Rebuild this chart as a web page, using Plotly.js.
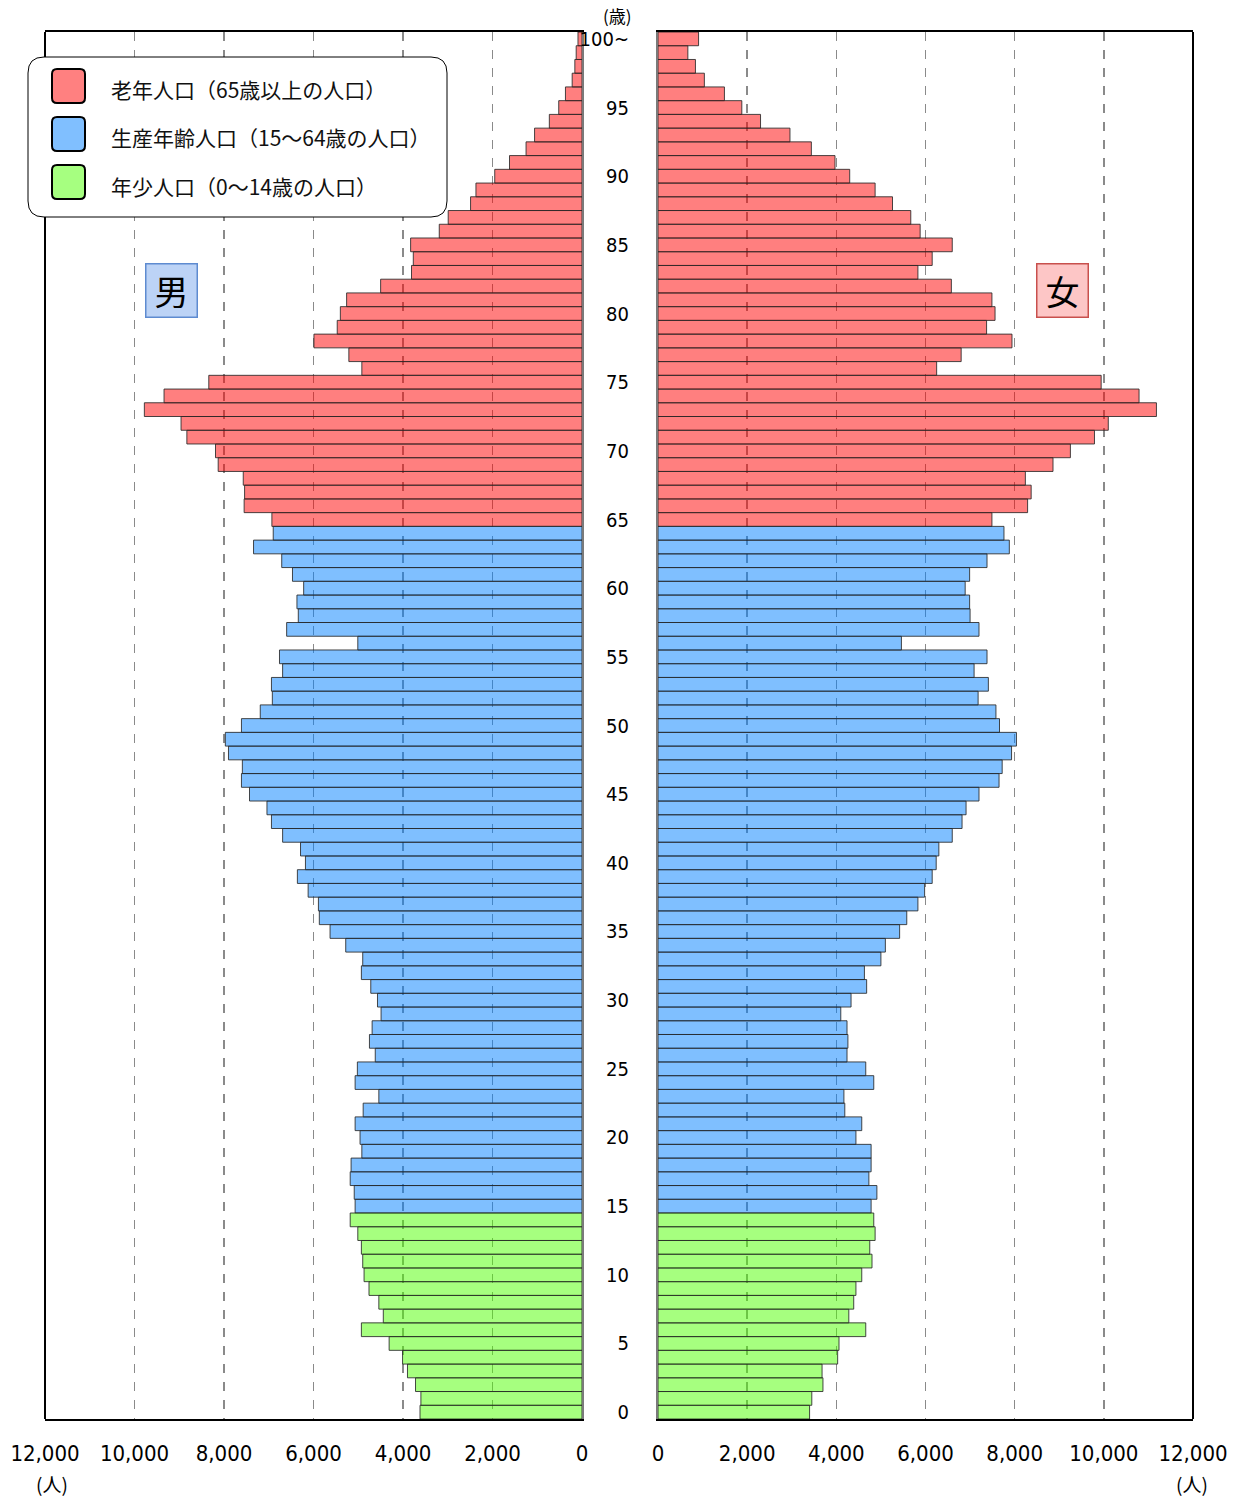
<!DOCTYPE html>
<html>
<head>
<meta charset="utf-8">
<script src="https://cdn.plot.ly/plotly-3.0.1.min.js"></script>
<style>html,body{margin:0;padding:0;background:#fff;}#chart{width:1234px;height:1497px;}</style>
</head>
<body>
<div id="chart"></div>
<script>
// ---- data (age 0 .. 100+) ----
const ages = [0,1,2,3,4,5,6,7,8,9,10,11,12,13,14,15,16,17,18,19,20,21,22,23,24,25,26,27,28,29,30,31,32,33,34,35,36,37,38,39,40,41,42,43,44,45,46,47,48,49,50,51,52,53,54,55,56,57,58,59,60,61,62,63,64,65,66,67,68,69,70,71,72,73,74,75,76,77,78,79,80,81,82,83,84,85,86,87,88,89,90,91,92,93,94,95,96,97,98,99,100];
const male = [3620,3600,3720,3900,4010,4310,4930,4440,4540,4760,
  4870,4900,4930,5010,5180,5070,5090,5180,5160,4920,
  4960,5070,4890,4540,5070,5020,4620,4750,4690,4490,
  4570,4720,4930,4900,5280,5630,5870,5890,6120,6360,
  6180,6290,6690,6940,7040,7430,7610,7590,7900,7970,
  7610,7190,6920,6940,6690,6760,5010,6600,6340,6370,
  6220,6470,6710,7340,6900,6930,7550,7540,7570,8130,
  8190,8830,8960,9780,9340,8340,4920,5210,5990,5470,
  5400,5260,4500,3810,3770,3830,3190,2990,2490,2370,
  1950,1620,1250,1060,730,520,370,220,160,130,90];
const female = [3400,3450,3700,3680,4030,4060,4660,4280,4390,4440,
  4570,4800,4750,4870,4840,4780,4910,4730,4780,4780,
  4440,4570,4190,4170,4840,4660,4240,4260,4240,4100,
  4330,4680,4630,5000,5100,5420,5580,5830,5980,6150,
  6240,6300,6600,6820,6910,7200,7650,7720,7930,8040,
  7660,7580,7180,7410,7090,7380,5460,7200,7000,6990,
  6890,6990,7380,7880,7760,7490,8290,8370,8240,8860,
  9250,9790,10100,11180,10790,9940,6250,6800,7940,7370,
  7560,7490,6580,5830,6150,6600,5880,5670,5260,4870,
  4300,3970,3440,2960,2300,1880,1490,1040,840,670,910];
const groupNames = ['老年人口（65歳以上の人口）','生産年齢人口（15～64歳の人口）','年少人口（0～14歳の人口）'];
const groupMin = [65, 15, 0];
const groupMax = [100, 64, 14];
const groupFill = ['rgba(255,0,0,0.5)','rgba(0,128,255,0.5)','rgba(77,255,0,0.5)'];
const groupSolid = ['#FF8080','#80BFFF','#A6FF80'];
const xTicks = [0,2000,4000,6000,8000,10000,12000];
const ageTickVals = [0,5,10,15,20,25,30,35,40,45,50,55,60,65,70,75,80,85,90,95,100];
const ageTickText = ['0','5','10','15','20','25','30','35','40','45','50','55','60','65','70','75','80','85','90','95','100~'];

// ---- geometry helpers ----
const W = 1234, H = 1497;
const px = v => v / W;
const py = v => 1 - v / H;

const traces = [];
groupNames.forEach((name, g) => {
  const idx = ages.map((a, i) => i).filter(i => ages[i] >= groupMin[g] && ages[i] <= groupMax[g]);
  const common = {
    type: 'bar', orientation: 'h', name: name, showlegend: false, width: 1,
    marker: {color: groupFill[g], line: {color: 'rgba(40,40,40,0.85)', width: 1}},
    hoverinfo: 'x+y'
  };
  traces.push(Object.assign({}, common, {x: idx.map(i => male[i]), y: idx.map(i => ages[i]), xaxis: 'x', yaxis: 'y'}));
  traces.push(Object.assign({}, common, {x: idx.map(i => female[i]), y: idx.map(i => ages[i]), xaxis: 'x2', yaxis: 'y2'}));
});

const numFamily = '"DejaVu Sans Condensed", "Liberation Sans", sans-serif';
const jpFont = '"Noto Sans CJK JP", "Noto Sans", sans-serif';
const yDom = [1 - 1419 / H, 1 - 32 / H];

const xCommon = {
  tickvals: xTicks, tickformat: ',',
  showgrid: true, griddash: 'dash', gridcolor: '#8a8a8a', gridwidth: 1.5,
  showline: true, linecolor: '#000', linewidth: 2, mirror: true,
  zeroline: false, ticks: '', ticklabelstandoff: 14, tickfont: {family: numFamily, size: 22, color: '#000'},
  fixedrange: true, automargin: false
};

function roundRect(x0, y0, x1, y1, r) {
  const P = (x, y) => px(x) + ',' + py(y);
  return 'M' + P(x0 + r, y0) + ' L' + P(x1 - r, y0) + ' Q' + P(x1, y0) + ' ' + P(x1, y0 + r) +
    ' L' + P(x1, y1 - r) + ' Q' + P(x1, y1) + ' ' + P(x1 - r, y1) +
    ' L' + P(x0 + r, y1) + ' Q' + P(x0, y1) + ' ' + P(x0, y1 - r) +
    ' L' + P(x0, y0 + r) + ' Q' + P(x0, y0) + ' ' + P(x0 + r, y0) + ' Z';
}

const shapes = [
  {type: 'line', xref: 'x domain', yref: 'y domain', x0: 0, x1: 0, y0: 0, y1: 1, line: {color: '#000', width: 2}},
  {type: 'line', xref: 'x2 domain', yref: 'y2 domain', x0: 1, x1: 1, y0: 0, y1: 1, line: {color: '#000', width: 2}},
  {type: 'path', xref: 'paper', yref: 'paper', path: roundRect(28, 57, 447, 217, 16), fillcolor: '#fff', line: {color: '#000', width: 1}, layer: 'above'}
];
const legendY = [86, 134, 182];
const textY = [89, 137, 186];
const annotations = [];
groupNames.forEach((name, g) => {
  shapes.push({type: 'path', xref: 'paper', yref: 'paper', path: roundRect(52, legendY[g] - 17, 85, legendY[g] + 17, 5),
    fillcolor: groupSolid[g], line: {color: '#000', width: 2}, layer: 'above'});
  annotations.push({xref: 'paper', yref: 'paper', x: px(109), y: py(textY[g]), xanchor: 'left', yanchor: 'middle',
    text: name, showarrow: false, font: {family: jpFont, size: 21, color: '#111'}});
});
annotations.push(
  {xref: 'paper', yref: 'paper', x: px(171.5), y: py(291), xanchor: 'center', yanchor: 'middle', text: '男', showarrow: false,
   font: {family: jpFont, size: 34, color: '#000'}, bgcolor: '#BCD3F6', bordercolor: '#5E8BD0', borderwidth: 1.5, width: 48, height: 50},
  {xref: 'paper', yref: 'paper', x: px(1062.5), y: py(291), xanchor: 'center', yanchor: 'middle', text: '女', showarrow: false,
   font: {family: jpFont, size: 34, color: '#000'}, bgcolor: '#FDC6C6', bordercolor: '#C8504D', borderwidth: 1.5, width: 48, height: 50},
  {xref: 'paper', yref: 'paper', x: px(617), y: py(15), xanchor: 'center', yanchor: 'middle', text: '(歳)', showarrow: false,
   font: {family: jpFont, size: 17, color: '#000'}},
  {xref: 'paper', yref: 'paper', x: px(52), y: py(1483), xanchor: 'center', yanchor: 'middle', text: '(人)', showarrow: false,
   font: {family: jpFont, size: 19, color: '#000'}},
  {xref: 'paper', yref: 'paper', x: px(1192), y: py(1483), xanchor: 'center', yanchor: 'middle', text: '(人)', showarrow: false,
   font: {family: jpFont, size: 19, color: '#000'}}
);

const layout = {
  width: W, height: H, margin: {l: 0, r: 0, t: 0, b: 0},
  paper_bgcolor: '#fff', plot_bgcolor: '#fff',
  barmode: 'overlay', bargap: 0, separators: '.,',
  showlegend: false,
  xaxis: Object.assign({}, xCommon, {domain: [px(45), px(582)], range: [12000, 0], anchor: 'y'}),
  xaxis2: Object.assign({}, xCommon, {domain: [px(658), px(1193)], range: [0, 12000], anchor: 'y2'}),
  yaxis: {domain: yDom, range: [-0.5, 100.5], anchor: 'x', side: 'right', showline: true, linecolor: '#7a7a7a', linewidth: 2,
    showticklabels: false, showgrid: false, zeroline: false, ticks: '', fixedrange: true},
  yaxis2: {domain: yDom, range: [-0.5, 100.5], anchor: 'x2', side: 'left', showline: true, linecolor: '#7a7a7a', linewidth: 2,
    tickvals: ageTickVals, ticktext: ageTickText, ticks: '', ticklabelstandoff: 23,
    tickfont: {family: numFamily, size: 20, color: '#000'}, showgrid: false, zeroline: false, fixedrange: true, automargin: false},
  shapes: shapes, annotations: annotations
};

Plotly.newPlot('chart', traces, layout, {displayModeBar: false, staticPlot: true});
</script>
</body>
</html>
